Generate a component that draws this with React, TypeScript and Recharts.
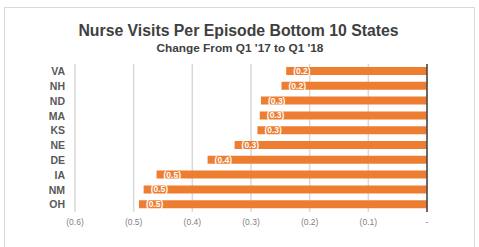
import React from 'react';
import { BarChart, Bar, XAxis, YAxis, CartesianGrid, ReferenceLine, LabelList } from 'recharts';

const states = ['VA', 'NH', 'ND', 'MA', 'KS', 'NE', 'DE', 'IA', 'NM', 'OH'];
const changes = [-0.24, -0.248, -0.283, -0.285, -0.289, -0.328, -0.374, -0.461, -0.483, -0.491];
const xTicks = [-0.6, -0.5, -0.4, -0.3, -0.2, -0.1, 0];

const data = states.map((s, i) => ({ state: s, change: changes[i] }));

const fmt = (v: number) => (Math.abs(v) < 1e-9 ? '-' : `(${Math.abs(v).toFixed(1)})`);

const FONT = '"Liberation Sans", Arial, sans-serif';

const BarLabel = (props: any) => {
  const { x, y, width, height, value } = props;
  const left = Math.min(Number(x), Number(x) + Number(width));
  return (
    <text
      x={left + 7}
      y={Number(y) + Number(height) / 2}
      dy="0.35em"
      fill="#ffffff"
      fontSize={8.5}
      fontWeight="bold"
      fontFamily={FONT}
    >
      {fmt(Number(value))}
    </text>
  );
};

export default function App() {
  return (
    <div style={{ position: 'absolute', left: 0, top: 0, width: 479, height: 247, background: '#fff', overflow: 'hidden' }}>
      <div style={{ position: 'absolute', left: 4, top: 7, width: 471, height: 300, border: '1px solid #d9d9d9', boxSizing: 'border-box' }} />
      <div style={{ position: 'absolute', left: 0, top: 21, width: 477, textAlign: 'center', fontFamily: FONT, fontWeight: 'bold', fontSize: 15.8, color: '#404040', lineHeight: '20px' }}>
        Nurse Visits Per Episode Bottom 10 States
      </div>
      <div style={{ position: 'absolute', left: 0, top: 40, width: 480, textAlign: 'center', fontFamily: FONT, fontWeight: 'bold', fontSize: 11.8, color: '#404040', lineHeight: '16px' }}>
        Change From Q1 '17 to Q1 '18
      </div>
      <div style={{ position: 'absolute', left: 0, top: 0 }}>
        <BarChart
          width={479}
          height={247}
          data={data}
          layout="vertical"
          margin={{ top: 64, right: 52, bottom: 0, left: 0 }}
        >
          <CartesianGrid horizontal={false} vertical={true} stroke="#d9d9d9" strokeWidth={1.5} />
          <XAxis
            type="number"
            domain={[-0.6, 0]}
            ticks={xTicks}
            tickFormatter={fmt}
            axisLine={false}
            tickLine={false}
            tickSize={0}
            tickMargin={7}
            height={35}
            tick={{ fontSize: 8.5, fill: '#7f7f7f', fontFamily: FONT }}
          />
          <YAxis
            type="category"
            dataKey="state"
            width={75}
            interval={0}
            axisLine={false}
            tickLine={false}
            tickSize={0}
            tickMargin={10}
            tick={{ fontSize: 10.5, fill: '#595959', fontWeight: 'bold', fontFamily: FONT }}
          />
          <ReferenceLine x={0} stroke="#404040" strokeWidth={1.5} />
          <Bar dataKey="change" fill="#ED7D31" barSize={8} isAnimationActive={false}>
            <LabelList dataKey="change" content={BarLabel} />
          </Bar>
        </BarChart>
      </div>
    </div>
  );
}
